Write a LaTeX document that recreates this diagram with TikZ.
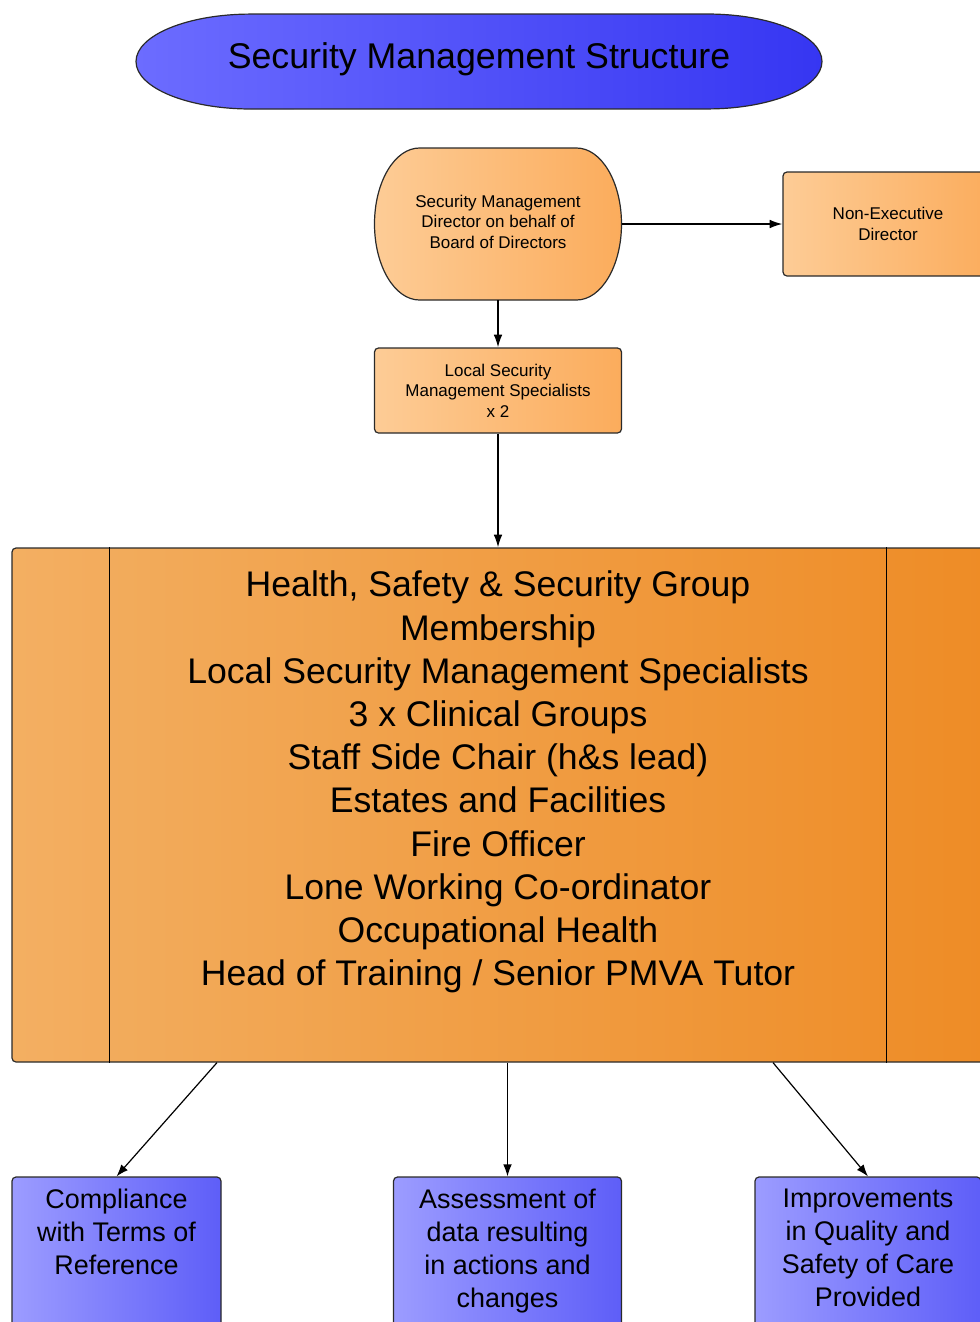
\documentclass[tikz,border=0pt]{standalone}
\usepackage{fontspec}
\setmainfont{Liberation Sans}
\usetikzlibrary{shapes.geometric,arrows.meta,calc}
\definecolor{edge}{HTML}{2A2A2A}
\definecolor{titleL}{HTML}{6C6CFF}
\definecolor{titleR}{HTML}{3636F2}
\definecolor{oL}{HTML}{FDCC96}
\definecolor{oR}{HTML}{FBAC5C}
\definecolor{bigL}{HTML}{F3AF62}
\definecolor{bigR}{HTML}{EE8C26}
\definecolor{bL}{HTML}{9C9CFF}
\definecolor{bR}{HTML}{5E5EF8}
\begin{document}
\begin{tikzpicture}[x=0.75pt,y=-0.75pt,
  arr/.style={draw=black, line width=1.2pt, -{Latex[length=9.5pt,width=6.5pt]}},
  arrb/.style={draw=black, line width=0.9pt, -{Latex[length=9pt,width=6.5pt]}},
  obox/.style={draw=edge, line width=0.9pt, rounded corners=3pt, left color=oL, right color=oR,
    align=center, inner sep=0pt, font=\fontsize{12.75}{15.4}\selectfont},
  smtext/.style={align=center, inner sep=0pt, font=\fontsize{12.75}{15.4}\selectfont},
  bluebox/.style={draw=edge, line width=0.9pt, rounded corners=3pt, left color=bL, right color=bR, inner sep=0pt},
  btext/.style={align=center, inner sep=0pt, anchor=north, font=\fontsize{20.2}{24.75}\selectfont},
  bigbox/.style={draw=edge, line width=0.9pt, rounded corners=3pt, left color=bigL, right color=bigR, inner sep=0pt},
  bigtext/.style={align=center, inner sep=0pt, font=\fontsize{26.7}{32.4}\selectfont}
]
\useasboundingbox (0,0) rectangle (979,1322);

% title
\path[draw=edge, line width=0.9pt, left color=titleL, right color=titleR]
  (251,14) -- (707,14) arc[start angle=90, end angle=-90, x radius=86.25pt, y radius=35.6pt]
  -- (251,109) arc[start angle=270, end angle=90, x radius=86.25pt, y radius=35.6pt] -- cycle;
\node[minimum width=686*0.75pt, minimum height=95*0.75pt, inner sep=0pt,
  font=\fontsize{26.8}{32}\selectfont] (title) at (479,59) {Security Management Structure};

% top rounded node
\path[draw=edge, line width=0.9pt, left color=oL, right color=oR]
  (419.5,148) -- (576.5,148) arc[start angle=90, end angle=-90, x radius=33.75pt, y radius=57pt]
  -- (419.5,300) arc[start angle=270, end angle=90, x radius=33.75pt, y radius=57pt] -- cycle;
\node[smtext, minimum width=247*0.75pt, minimum height=152*0.75pt] (smd) at (498,224) {};
\node[smtext] (smdtxt) at (498,221.5) {Security Management\\Director on behalf of\\Board of Directors};

% non-executive director
\node[obox, minimum width=210*0.75pt, minimum height=104*0.75pt] (ned) at (888,224) {Non-Executive\\Director};

% local security
\node[obox, minimum width=247*0.75pt, minimum height=85*0.75pt] (lsms) at (498,390.5) {Local Security\\Management Specialists\\x 2};

% big box
\node[bigbox, minimum width=972*0.75pt, minimum height=514*0.75pt] (hsg) at (498,805) {};
\draw[draw=black, line width=1pt] ($(hsg.north west)+(98,0)$) -- ($(hsg.south west)+(98,0)$);
\draw[draw=black, line width=1pt] ($(hsg.north east)+(-98,0)$) -- ($(hsg.south east)+(-98,0)$);
\node[bigtext] (hsgtxt) at (498,782) {Health, Safety \& Security Group\\Membership\\Local Security Management Specialists\\3 x Clinical Groups\\Staff Side Chair (h\&s lead)\\Estates and Facilities\\Fire Officer\\Lone Working Co-ordinator\\Occupational Health\\Head of Training / Senior PMVA Tutor};

% bottom boxes
\node[bluebox, minimum width=209*0.75pt, minimum height=163*0.75pt] (b1) at (116.5,1258.5) {};
\node[bluebox, minimum width=228*0.75pt, minimum height=163*0.75pt] (b2) at (507.5,1258.5) {};
\node[bluebox, minimum width=226*0.75pt, minimum height=163*0.75pt] (b3) at (868,1258.5) {};
\node[btext] (b1t) at ($(b1.north)+(0,12)$) {Compliance\\with Terms of\\Reference};
\node[btext] (b2t) at ($(b2.north)+(0,12)$) {Assessment of\\data resulting\\in actions and\\changes};
\node[btext] (b3t) at ($(b3.north)+(0,12)$) {Improvements\\in Quality and\\Safety of Care\\Provided};

% connectors
\draw[arr] (smd.south) -- (lsms.north);
\draw[arr] (smd.east) -- (ned.west);
\draw[arr] (lsms.south) -- (hsg.north);
\draw[arrb] ($(hsg.south)+(-281,0)$) -- (b1.north);
\draw[arrb] (hsg.south -| b2.north) -- (b2.north);
\draw[arrb] ($(hsg.south)+(275,0)$) -- (b3.north);
\end{tikzpicture}
\end{document}
